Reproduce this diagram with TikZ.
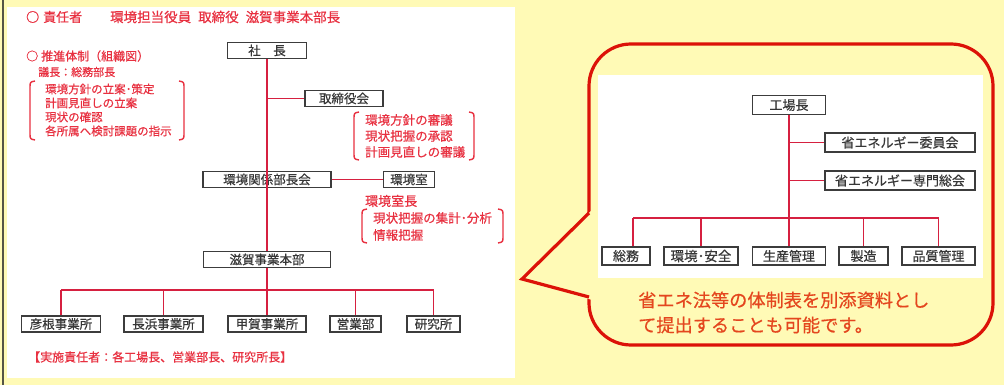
\documentclass[tikz,border=0pt]{standalone}
\usepackage{fontspec}
\setmainfont{Noto Sans CJK JP}[FakeBold=0.5]
\definecolor{bgyellow}{RGB}{255,250,182}
\definecolor{txtred}{RGB}{232,48,64}
\definecolor{linered}{RGB}{214,32,64}
\definecolor{boxgray}{RGB}{60,60,60}
\definecolor{boxtext}{RGB}{55,55,55}
\definecolor{bubred}{RGB}{220,18,8}
\definecolor{bubtext}{RGB}{228,70,30}
\definecolor{edgegray}{RGB}{85,85,70}
\newcommand\myfs[1]{\fontsize{#1}{#1}\selectfont}
\newcommand\lbrk[3]{\draw[brk] (#1+5,#2) .. controls (#1,#2+1) .. (#1,#2+7) -- (#1,#3-7) .. controls (#1,#3-1) .. (#1+5,#3);}
\newcommand\rbrk[3]{\draw[brk] (#1-5,#2) .. controls (#1,#2+1) .. (#1,#2+7) -- (#1,#3-7) .. controls (#1,#3-1) .. (#1-5,#3);}
\tikzset{
 orgbox/.style={draw=boxgray, fill=white, line width=1.2pt, inner sep=0pt, minimum height=16pt, text=boxtext, font=\myfs{12.5}},
 rbox/.style={orgbox, minimum height=19pt, font=\myfs{13}},
 redtxt/.style={text=txtred, inner sep=0pt, anchor=west, font=\myfs{11.5}},
 orgline/.style={draw=linered, line width=1.7pt},
 inline/.style={draw=linered, line width=1.4pt},
 brk/.style={draw=txtred, line width=1.4pt},
}
\begin{document}
\begin{tikzpicture}[x=1pt,y=-1pt]
\useasboundingbox (0,0) rectangle (1004,385);
\fill[bgyellow] (0,0) rectangle (1004,385);
\fill[white] (7,7) rectangle (515,378);
\draw[edgegray, line width=2pt] (3,0) -- (3,385);

% ---------- left panel texts ----------
\node[redtxt, font=\myfs{13}] (maru1) at (26,17) {○};
\node[redtxt, font=\myfs{13}] (sekinin) at (43,17) {責任者};
\node[redtxt, font=\myfs{13.5}] (sekininlist) at (110,17) {環境担当役員\hspace{7pt}取締役\hspace{7pt}滋賀事業本部長};
\node[redtxt, font=\myfs{12}] (suishin) at (26,56) {○\hspace{3pt}推進体制（組織図）};
\node[redtxt, font=\myfs{11}] (gicho) at (38,72) {議長：総務部長};
\node[redtxt] (l1a) at (45,89) {環境方針の立案･策定};
\node[redtxt] (l1b) at (45,103) {計画見直しの立案};
\node[redtxt] (l1c) at (45,117) {現状の確認};
\node[redtxt] (l1d) at (45,131) {各所属へ検討課題の指示};
\lbrk{30}{81}{140}
\rbrk{184}{81}{140}

\node[redtxt, font=\myfs{12.5}] (r1a) at (365,120) {環境方針の審議};
\node[redtxt, font=\myfs{12.5}] (r1b) at (365,136) {現状把握の承認};
\node[redtxt, font=\myfs{12.5}] (r1c) at (365,152) {計画見直しの審議};
\lbrk{354}{112}{160}
\rbrk{474}{112}{160}

\node[redtxt, font=\myfs{13}] (shitsucho) at (365,201) {環境室長};
\node[redtxt, font=\myfs{12.5}] (r2a) at (373,218) {現状把握の集計･分析};
\node[redtxt, font=\myfs{12.5}] (r2b) at (373,235) {情報把握};
\lbrk{362}{209}{243}
\rbrk{503}{209}{243}

\node[redtxt, font=\myfs{12}] (jisshi) at (28,357) {【実施責任者：各工場長、営業部長、研究所長】};

% ---------- left org chart ----------
\node[orgbox, minimum width=79pt] (shacho) at (267,50.5) {社　長};
\node[orgbox, minimum width=78pt] (tori) at (344,98.5) {取締役会};
\node[orgbox, minimum width=128pt] (bucho) at (267,179.5) {環境関係部長会};
\node[orgbox, minimum width=51pt] (shitsu) at (409,179.5) {環境室};
\node[orgbox, minimum width=127pt] (shiga) at (267,259.5) {滋賀事業本部};
\node[orgbox, minimum width=79pt] (hikone) at (61,324) {彦根事業所};
\node[orgbox, minimum width=79pt] (nagahama) at (163.5,324) {長浜事業所};
\node[orgbox, minimum width=78pt] (kouka) at (267,324) {甲賀事業所};
\node[orgbox, minimum width=51pt] (eigyo) at (355.5,324) {営業部};
\node[orgbox, minimum width=53pt] (kenkyu) at (433.5,324) {研究所};

\coordinate (lbus) at (0,290);
\draw[orgline] (shacho.south) -- (shiga.north);
\draw[orgline] (shacho.south |- tori.west) -- (tori.west);
\draw[orgline] (bucho.east) -- (shitsu.west);
\draw[orgline] (shiga.south) -- (shiga.south |- lbus);
\draw[orgline] (hikone.north |- lbus) -- (kenkyu.north |- lbus);
\foreach \b in {hikone,nagahama,kouka,eigyo,kenkyu}
  \draw[orgline] (\b.north |- lbus) -- (\b.north);

% ---------- callout ----------
\draw[bubred, fill=bgyellow, line width=3.2pt, rounded corners=42pt] (589,44) rectangle (993,345);
\fill[bgyellow] (592,210) -- (522,279) -- (592,300) -- cycle;
\coordinate (tailtop) at (589,213);
\coordinate (tailtip) at (522,279);
\coordinate (tailbot) at (589,297);
\draw[bubred, line width=3.2pt, line join=miter] (tailtop) -- (tailtip) -- (tailbot);
\fill[white] (598,75) rectangle (983,278);

\node[rbox, minimum width=73pt] (kojo) at (789,105) {工場長};
\node[rbox, minimum width=150pt] (iinkai) at (900,142.5) {省エネルギー委員会};
\node[rbox, minimum width=150pt] (soukai) at (900,180.5) {省エネルギー専門総会};
\node[rbox, minimum width=48pt, minimum height=18pt] (soumu) at (626,256) {総務};
\node[rbox, minimum width=74pt, minimum height=18pt, font=\myfs{13.5}] (anzen) at (701,256) {環境･安全};
\node[rbox, minimum width=73pt, minimum height=18pt] (seisan) at (789,256) {生産管理};
\node[rbox, minimum width=49pt, minimum height=18pt] (seizo) at (863.5,256) {製造};
\node[rbox, minimum width=73pt, minimum height=18pt] (hinshitsu) at (938.5,256) {品質管理};

\coordinate (rbus) at (0,218);
\draw[inline] (kojo.south) -- (seisan.north);
\draw[inline] (kojo.south |- iinkai.west) -- (iinkai.west);
\draw[inline] (kojo.south |- soukai.west) -- (soukai.west);
\draw[inline] ([xshift=7pt]soumu.north |- rbus) -- (hinshitsu.north |- rbus);
\draw[inline] ([xshift=7pt]soumu.north |- rbus) -- ([xshift=7pt]soumu.north);
\foreach \b in {anzen,seizo,hinshitsu}
  \draw[inline] (\b.north |- rbus) -- (\b.north);

\node[text=bubtext, inner sep=0pt, anchor=west, font=\myfs{18.2}] (note1) at (638,300) {省エネ法等の体制表を別添資料とし};
\node[text=bubtext, inner sep=0pt, anchor=west, font=\myfs{18.2}] (note2) at (638,325) {て提出することも可能です。};
\end{tikzpicture}
\end{document}
